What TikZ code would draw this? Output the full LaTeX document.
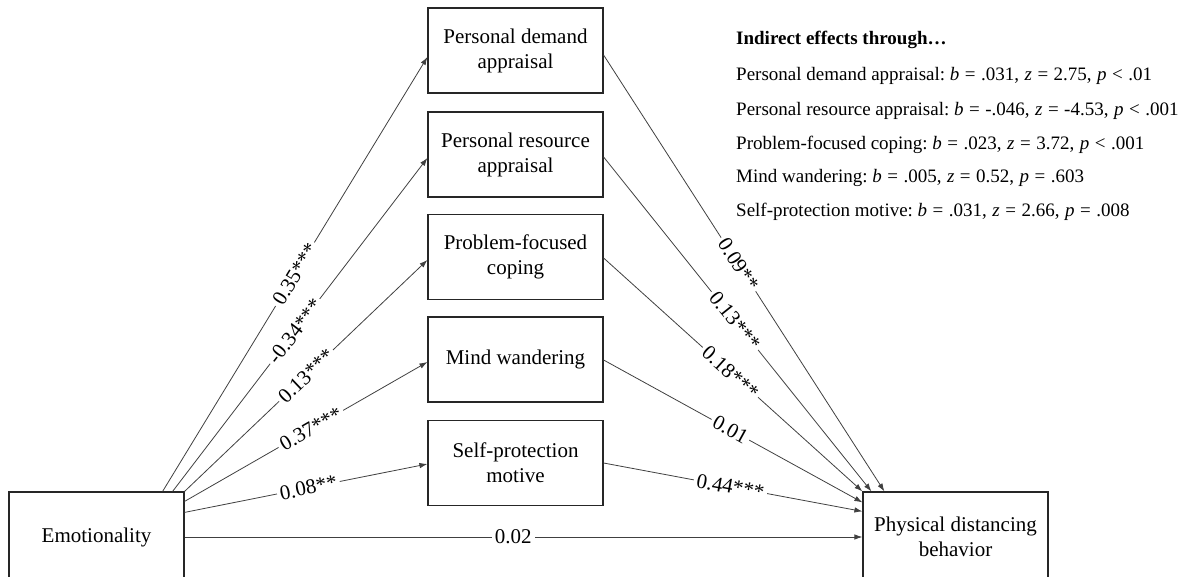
\documentclass[tikz,border=0pt]{standalone}
\usepackage{fontspec}
\setmainfont{Liberation Serif}
\usetikzlibrary{arrows.meta,calc}
\frenchspacing
\newcommand{\ws}{\hspace{5.5pt}}
\begin{document}
\begin{tikzpicture}[x=1pt,y=-1pt,
 box/.style={draw=black!85,line width=1.2pt,align=center,font=\fontsize{21}{25}\selectfont,inner sep=0pt,minimum width=175pt,minimum height=85pt},
 arr/.style={draw=black!75,line width=0.8pt,-{Latex[length=8pt,width=5.5pt]}},
 lab/.style={fill=white,sloped,font=\fontsize{21}{25}\selectfont,inner xsep=3pt,inner ysep=0pt},
 info/.style={anchor=base west,font=\fontsize{19}{22}\selectfont,inner sep=0pt}]
\useasboundingbox (0,0) rectangle (1178,577);
\clip (0,0) rectangle (1178,577);

\node[box] (m1) at (515.5,50.5) {Personal demand\\appraisal};
\node[box] (m2) at (515.5,154.5) {Personal resource\\appraisal};
\node[box] (m3) at (515.5,257) {Problem-focused\\coping};
\node[box] (m4) at (515.5,359.5) {Mind wandering};
\node[box] (m5) at (515.5,463) {Self-protection\\motive};
\node[box,minimum height=90pt] (emo) at (96.5,537) {Emotionality};
\node[box,minimum width=185pt,minimum height=90pt] (phys) at (955.5,537) {Physical distancing\\behavior};

\draw[arr] ($(emo.north east)+(-22,0)$) -- ($(m1.west)+(0,6.5)$) node[lab,pos=.5] {0.35***};
\draw[arr] ($(emo.north east)+(-12,0)$) -- ($(m2.west)+(0,3.5)$) node[lab,pos=.48] {-0.34***};
\draw[arr] (emo.north east) -- ($(m3.west)+(0,3)$) node[lab,pos=.5] {0.13***};
\draw[arr] ($(emo.north east)+(0,10)$) -- ($(m4.west)+(0,2.5)$) node[lab,pos=.52] {0.37***};
\draw[arr] ($(emo.north east)+(0,21)$) -- ($(m5.west)+(0,1)$) node[lab,pos=.51] {0.08**};
\draw[arr] (emo.east) -- (phys.west) node[lab,pos=.485] {0.02};

\draw[arr] ($(m1.east)+(0,4.5)$) -- ($(phys.north west)+(22,0)$) node[lab,pos=.48] {0.09**};
\draw[arr] ($(m2.east)+(0,2.5)$) -- ($(phys.north west)+(9,0)$) node[lab,pos=.49] {0.13***};
\draw[arr] ($(m3.east)+(0,1)$) -- (phys.north west) node[lab,pos=.49] {0.18***};
\draw[arr] ($(m4.east)+(0,0.5)$) -- ($(phys.north west)+(0,11)$) node[lab,pos=.49] {0.01};
\draw[arr] (m5.east) -- ($(phys.north west)+(0,20)$) node[lab,pos=.49] {0.44***};

\node[info,font=\fontsize{19}{22}\selectfont\bfseries] (t0) at (736,45) {Indirect effects through\ldots};
\node[info] (t1) at (736,81) {Personal demand appraisal: \textit{b}\ws=\ws.031,\ws\textit{z}\ws=\ws2.75,\ws\textit{p}\ws<\ws.01};
\node[info] (t2) at (736,116) {Personal resource appraisal: \textit{b}\ws=\ws-.046,\ws\textit{z}\ws=\ws-4.53,\ws\textit{p}\ws<\ws.001};
\node[info] (t3) at (736,150) {Problem-focused coping: \textit{b}\ws=\ws.023,\ws\textit{z}\ws=\ws3.72,\ws\textit{p}\ws<\ws.001};
\node[info] (t4) at (736,183) {Mind wandering: \textit{b}\ws=\ws.005,\ws\textit{z}\ws=\ws0.52,\ws\textit{p}\ws=\ws.603};
\node[info] (t5) at (736,217) {Self-protection motive: \textit{b}\ws=\ws.031,\ws\textit{z}\ws=\ws2.66,\ws\textit{p}\ws=\ws.008};
\end{tikzpicture}
\end{document}
